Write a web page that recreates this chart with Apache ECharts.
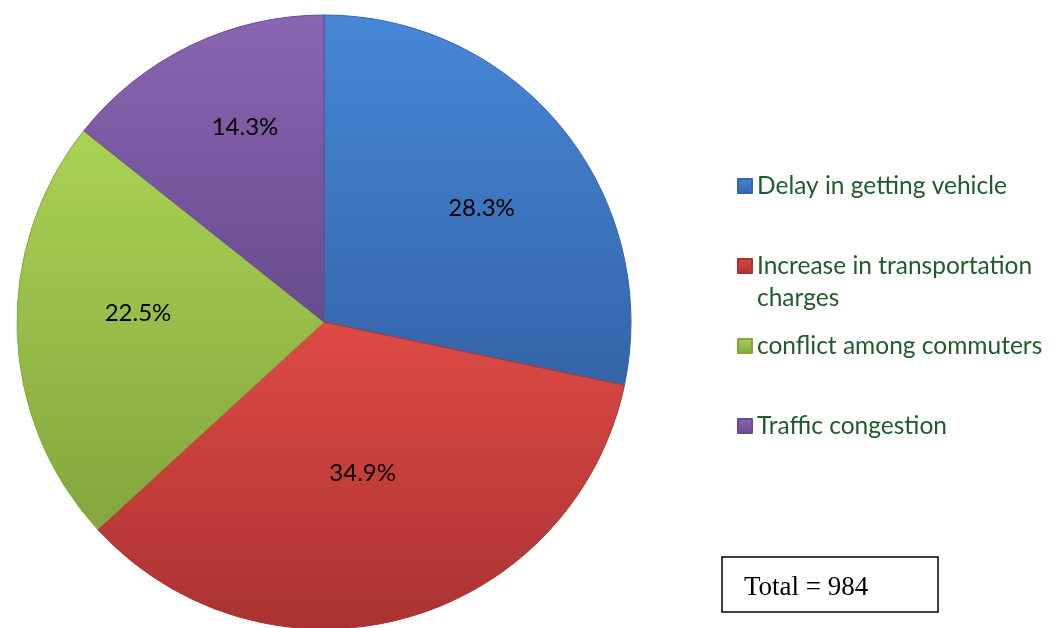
<!DOCTYPE html>
<html>
<head>
<meta charset="utf-8">
<script src="https://cdn.jsdelivr.net/npm/echarts@6/dist/echarts.min.js"></script>
<style>
  html, body { margin: 0; padding: 0; background: #fff; }
  #chart { width: 1053px; height: 628px; }
</style>
</head>
<body>
<div id="chart"></div>
<script>
// data
var categories = ['Delay in getting vehicle', 'Increase in transportation charges', 'conflict among commuters', 'Traffic congestion'];
var legendText = ['Delay in getting vehicle', 'Increase in transportation\ncharges', 'conflict among commuters', 'Traffic congestion'];
var shares = [28.3, 34.9, 22.5, 14.3];
var total = 984;

// look
var center = [324, 322];
var radius = 307;
var topColors = ['#4787d8', '#de4a46', '#aad253', '#8965b2'];
var bottomColors = ['#3464a8', '#aa3232', '#84a63d', '#684b8e'];
// excel "best fit" label spots: stretch from the inside label spot, small clockwise turn (deg)
var labelReach = [1.24, 1.0, 1.19, 1.34];
var labelTurn = [3.3, 1, 4.8, 3.6];

var chart = echarts.init(document.getElementById('chart'));

var pieData = categories.map(function (name, i) {
  return {
    name: name,
    value: shares[i],
    itemStyle: {
      color: new echarts.graphic.LinearGradient(0, 0, 0, 1, [
        { offset: 0, color: topColors[i] },
        { offset: 1, color: bottomColors[i] }
      ]),
      borderColor: bottomColors[i]
    }
  };
});

var option = {
  animation: false,
  legend: {
    orient: 'vertical',
    left: 737,
    top: 138,
    padding: 0,
    itemWidth: 14,
    itemHeight: 14,
    itemGap: -16,
    icon: 'rect',
    selectedMode: false,
    textStyle: {
      fontFamily: 'Lato',
      fontSize: 24.5,
      color: '#1f5c29',
      lineHeight: 32
    },
    // blank lines keep the first text line level with the marker
    formatter: function (name) {
      var t = legendText[categories.indexOf(name)];
      return t.indexOf('\n') >= 0 ? ' \n' + t : ' \n' + t + '\n ';
    },
    data: categories
  },
  graphic: [
    {
      type: 'rect',
      shape: { x: 722, y: 557, width: 216, height: 55 },
      style: { fill: '#fff', stroke: '#000', lineWidth: 1.5 }
    },
    {
      type: 'text',
      x: 744,
      y: 588,
      style: {
        text: 'Total = ' + total,
        fontFamily: 'Liberation Serif',
        fontSize: 27,
        fill: '#000',
        verticalAlign: 'middle'
      }
    }
  ],
  series: [
    {
      type: 'pie',
      center: center,
      radius: radius,
      startAngle: 90,
      clockwise: true,
      silent: true,
      itemStyle: { borderWidth: 1 },
      label: {
        show: true,
        position: 'inside',
        formatter: '{c}%',
        fontFamily: 'Lato',
        fontSize: 24,
        color: '#000'
      },
      labelLine: { show: false },
      labelLayout: function (params) {
        var r = params.labelRect;
        var f = labelReach[params.dataIndex];
        var a = labelTurn[params.dataIndex] * Math.PI / 180;
        var dx = (r.x + r.width / 2 - center[0]) * f;
        var dy = (r.y + r.height / 2 - center[1]) * f;
        return {
          x: center[0] + dx * Math.cos(a) - dy * Math.sin(a),
          y: center[1] + dx * Math.sin(a) + dy * Math.cos(a)
        };
      },
      data: pieData
    }
  ]
};

chart.setOption(option);
</script>
</body>
</html>
